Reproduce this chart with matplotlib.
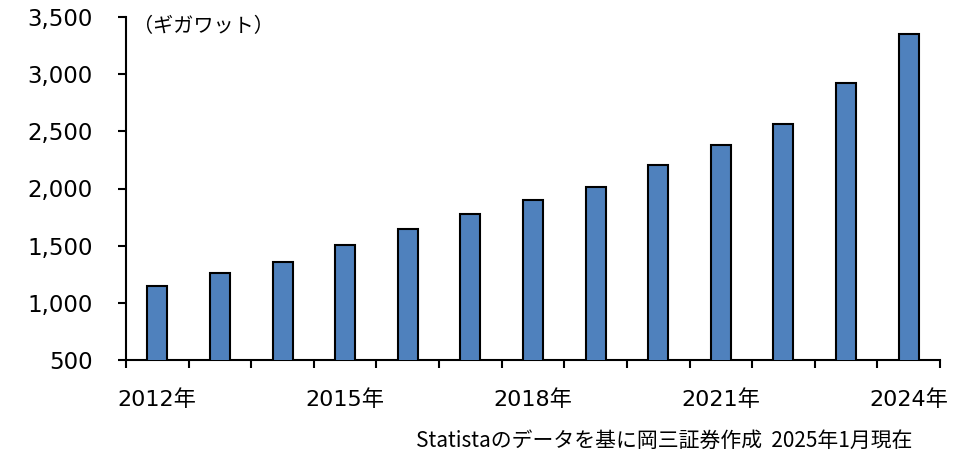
import matplotlib
matplotlib.use("Agg")
import matplotlib.pyplot as plt
from matplotlib.ticker import FuncFormatter

plt.rcParams['font.family'] = ['DejaVu Sans', 'Noto Sans CJK JP']

years = list(range(2012, 2025))
values = [1147, 1258, 1360, 1506, 1646, 1777, 1900, 2013, 2206, 2381, 2565, 2926, 3349]
tick_years = [2012, 2015, 2018, 2021, 2024]
unit_label = "（ギガワット）"
source = "Statistaのデータを基に岡三証券作成  2025年1月現在"

fig = plt.figure(figsize=(9.75, 4.57), dpi=100)
ax = fig.add_axes([126/975, 1 - 360/457, (940-126)/975, (360-17)/457])

x = list(range(len(years)))
ax.bar(x, values, width=0.32, color='#4f81bd', edgecolor='black', linewidth=1.5,
       zorder=3)
ax.set_ylim(500, 3500)
ax.set_xlim(-0.5, len(years) - 0.5)
ax.set_yticks(range(500, 3501, 500))
ax.yaxis.set_major_formatter(FuncFormatter(lambda v, p: f"{int(v):,}"))
ax.tick_params(axis='y', direction='out', length=6, width=1.5, labelsize=16.5, pad=18)

ax.set_xticks([i - 0.5 for i in range(len(years) + 1)], minor=True)
ax.set_xticks([years.index(y) for y in tick_years])
ax.set_xticklabels([f"{y}年" for y in tick_years])
ax.tick_params(axis='x', which='major', length=0, labelsize=16, pad=21)
ax.tick_params(axis='x', which='minor', direction='out', length=6, width=1.5)

for s in ['top', 'right']:
    ax.spines[s].set_visible(False)
for s in ['left', 'bottom']:
    ax.spines[s].set_linewidth(1.5)

fig.text(203/975, 1 - 27/457, unit_label, fontsize=14.5, va='center', ha='center',
         family=['Noto Sans CJK JP'])
fig.text(912/975, 1 - 441/457, source, fontsize=15, va='center', ha='right',
         family=['Noto Sans CJK JP'])

fig.savefig("out.png", dpi=100)
